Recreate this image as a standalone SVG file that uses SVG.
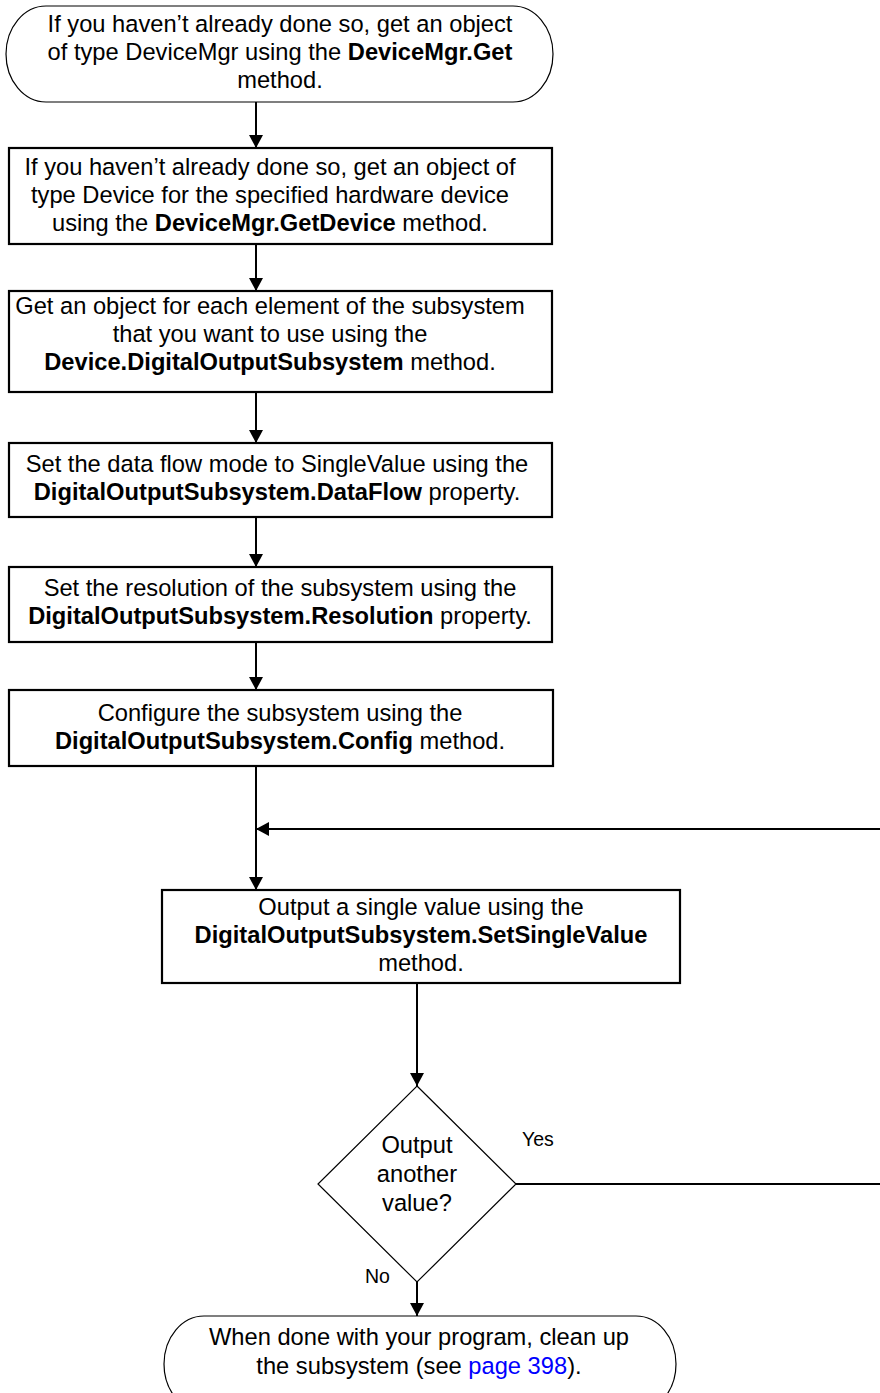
<svg xmlns="http://www.w3.org/2000/svg" width="880" height="1393" viewBox="0 0 880 1393">
  <defs>
    <marker id="arrow" markerUnits="userSpaceOnUse" markerWidth="14" markerHeight="14" refX="13" refY="7" orient="auto">
      <path d="M0,0 L13,7 L0,14 Z" fill="#000"/>
    </marker>
  </defs>
  <style>
    text { font-family: "Liberation Sans", Arial, Helvetica, sans-serif; font-size: 23.7px; fill: #000; text-anchor: middle; }
    .b { font-weight: bold; }
    .lbl { font-size: 19.5px; text-anchor: start; }
    .link { fill: #0000ff; }
    .box { fill: #fff; stroke: #000; stroke-width: 2.2; }
    .term { fill: #fff; stroke: #000; stroke-width: 1.2; }
    .dec { fill: #fff; stroke: #000; stroke-width: 1.2; }
    .conn { fill: none; stroke: #000; stroke-width: 2; marker-end: url(#arrow); }
  </style>
  <rect width="880" height="1393" fill="#fff"/>

  <!-- flow connectors -->
  <g id="connectors">
    <path class="conn" d="M256,102 V148"/>
    <path class="conn" d="M256,244 V291"/>
    <path class="conn" d="M256,392 V443"/>
    <path class="conn" d="M256,517 V567"/>
    <path class="conn" d="M256,642 V690"/>
    <path class="conn" d="M256,766 V890"/>
    <path class="conn" d="M417,983 V1086"/>
    <path class="conn" d="M417,1282 V1316"/>
    <!-- "Yes" branch loops back above the output step -->
    <path class="conn" d="M516,1184 H900 V829 H256"/>
  </g>

  <g id="start">
    <rect class="term" x="6" y="6" width="547" height="96" rx="40" ry="48"/>
    <text x="280" y="32">If you haven’t already done so, get an object</text>
    <text x="280" y="60">of type DeviceMgr using the <tspan class="b">DeviceMgr.Get</tspan></text>
    <text x="280" y="88">method.</text>
  </g>

  <g id="get-device">
    <rect class="box" x="9" y="148" width="543" height="96"/>
    <text x="270" y="175">If you haven’t already done so, get an object of</text>
    <text x="270" y="203">type Device for the specified hardware device</text>
    <text x="270" y="231">using the <tspan class="b">DeviceMgr.GetDevice</tspan> method.</text>
  </g>

  <g id="get-subsystem">
    <rect class="box" x="9" y="291" width="543" height="101"/>
    <text x="270" y="314">Get an object for each element of the subsystem</text>
    <text x="270" y="342">that you want to use using the</text>
    <text x="270" y="370"><tspan class="b">Device.DigitalOutputSubsystem</tspan> method.</text>
  </g>

  <g id="set-dataflow">
    <rect class="box" x="9" y="443" width="543" height="74"/>
    <text x="277" y="472">Set the data flow mode to SingleValue using the</text>
    <text x="277" y="500"><tspan class="b">DigitalOutputSubsystem.DataFlow</tspan> property.</text>
  </g>

  <g id="set-resolution">
    <rect class="box" x="9" y="567" width="543" height="75"/>
    <text x="280" y="596">Set the resolution of the subsystem using the</text>
    <text x="280" y="624"><tspan class="b">DigitalOutputSubsystem.Resolution</tspan> property.</text>
  </g>

  <g id="config">
    <rect class="box" x="9" y="690" width="544" height="76"/>
    <text x="280" y="721">Configure the subsystem using the</text>
    <text x="280" y="749"><tspan class="b">DigitalOutputSubsystem.Config</tspan> method.</text>
  </g>

  <g id="set-value">
    <rect class="box" x="162" y="890" width="518" height="93"/>
    <text x="421" y="915">Output a single value using the</text>
    <text x="421" y="943" class="b">DigitalOutputSubsystem.SetSingleValue</text>
    <text x="421" y="971">method.</text>
  </g>

  <g id="another-value">
    <polygon class="dec" points="417,1086 516,1184 417,1282 318,1184"/>
    <text x="417" y="1153">Output</text>
    <text x="417" y="1182">another</text>
    <text x="417" y="1211">value?</text>
    <text class="lbl" x="522" y="1146">Yes</text>
    <text class="lbl" x="365" y="1283">No</text>
  </g>

  <g id="cleanup">
    <rect class="term" x="164" y="1316" width="512" height="96" rx="40" ry="48"/>
    <text x="419" y="1345">When done with your program, clean up</text>
    <text x="419" y="1374">the subsystem (see <tspan class="link">page 398</tspan>).</text>
  </g>
</svg>
